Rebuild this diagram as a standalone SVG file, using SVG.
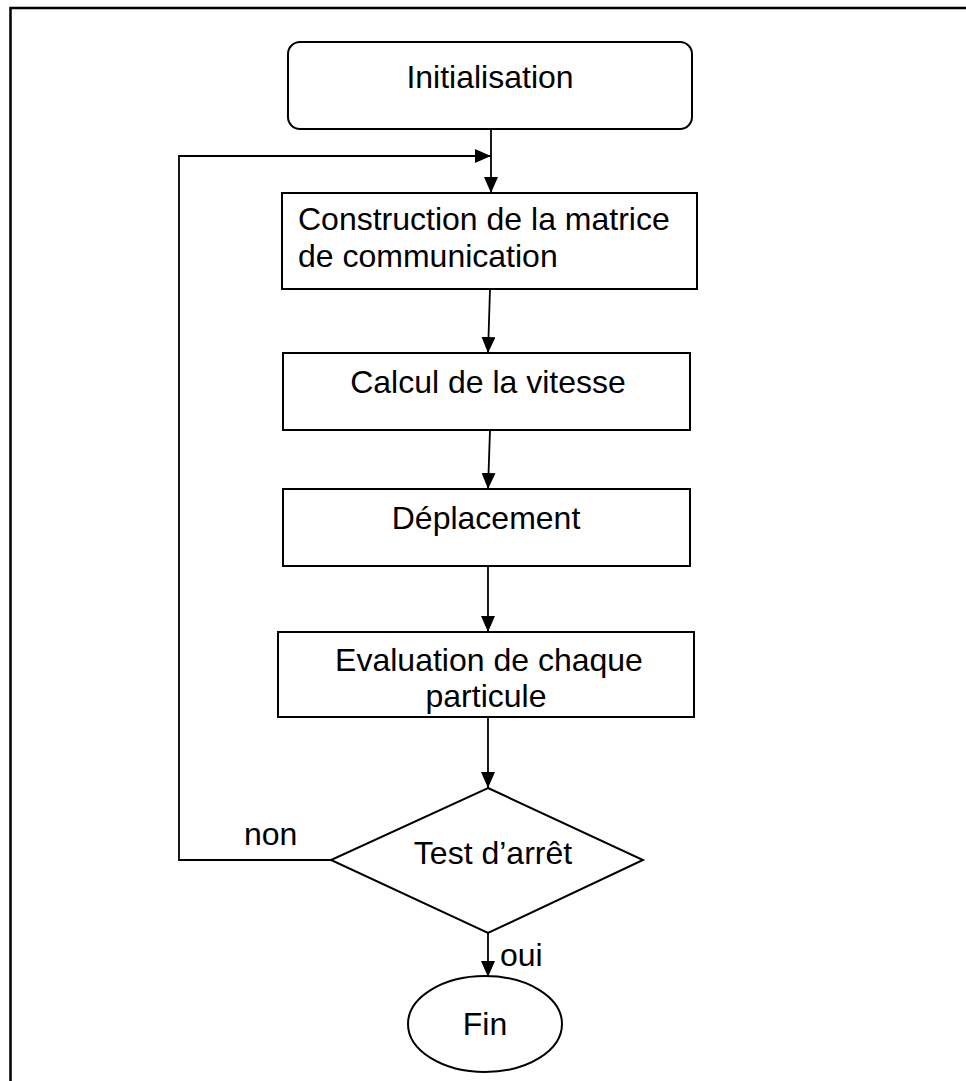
<svg xmlns="http://www.w3.org/2000/svg" width="966" height="1081" viewBox="0 0 966 1081">
  <style>
    .shape { fill: #ffffff; stroke: #000000; stroke-width: 2; }
    .edge { fill: none; stroke: #000000; stroke-width: 1.8; }
    .lbl { font-family: "Liberation Sans", Arial, sans-serif; font-size: 32px; fill: #000000; }
    .mid { text-anchor: middle; }
  </style>
  <defs>
    <marker id="arrow" viewBox="0 0 16 14" refX="16" refY="7" markerWidth="16" markerHeight="14" markerUnits="userSpaceOnUse" orient="auto">
      <path d="M0,0 L16,7 L0,14 Z" fill="#000000"/>
    </marker>
  </defs>

  <rect width="966" height="1081" fill="#ffffff"/>
  <!-- page frame: top and left rules only -->
  <path d="M10.5,1081 V8 H966" fill="none" stroke="#000000" stroke-width="2.5"/>

  <g id="connectors">
    <path class="edge" d="M491,129 V193" marker-end="url(#arrow)"/>
    <path class="edge" d="M331,860 H179 V156 H491" marker-end="url(#arrow)"/>
    <path class="edge" d="M490,289 L488,353" marker-end="url(#arrow)"/>
    <path class="edge" d="M490,430 L488,489" marker-end="url(#arrow)"/>
    <path class="edge" d="M488,566 V632" marker-end="url(#arrow)"/>
    <path class="edge" d="M488,717 V788" marker-end="url(#arrow)"/>
    <path class="edge" d="M488,933 V977" marker-end="url(#arrow)"/>
  </g>

  <g id="init">
    <rect class="shape" x="288" y="42" width="404" height="87" rx="12"/>
    <text class="lbl mid" x="490" y="88">Initialisation</text>
  </g>
  <g id="construction">
    <rect class="shape" x="282" y="193" width="415" height="96"/>
    <text class="lbl" x="298" y="230">Construction de la matrice</text>
    <text class="lbl" x="298" y="267">de communication</text>
  </g>
  <g id="calcul">
    <rect class="shape" x="283" y="353" width="407" height="77"/>
    <text class="lbl mid" x="488" y="393">Calcul de la vitesse</text>
  </g>
  <g id="deplacement">
    <rect class="shape" x="283" y="489" width="407" height="77"/>
    <text class="lbl mid" x="486" y="529">Déplacement</text>
  </g>
  <g id="evaluation">
    <rect class="shape" x="278" y="632" width="416" height="85"/>
    <text class="lbl mid" x="489" y="671">Evaluation de chaque</text>
    <text class="lbl mid" x="486" y="707">particule</text>
  </g>
  <g id="test">
    <polygon class="shape" points="488,788 643,860 488,933 331,860"/>
    <text class="lbl mid" x="493" y="864">Test d’arrêt</text>
    <text class="lbl" x="244" y="845">non</text>
    <text class="lbl" x="500" y="966">oui</text>
  </g>
  <g id="fin">
    <ellipse class="shape" cx="485" cy="1024" rx="77" ry="48"/>
    <text class="lbl mid" x="485" y="1035">Fin</text>
  </g>
</svg>
